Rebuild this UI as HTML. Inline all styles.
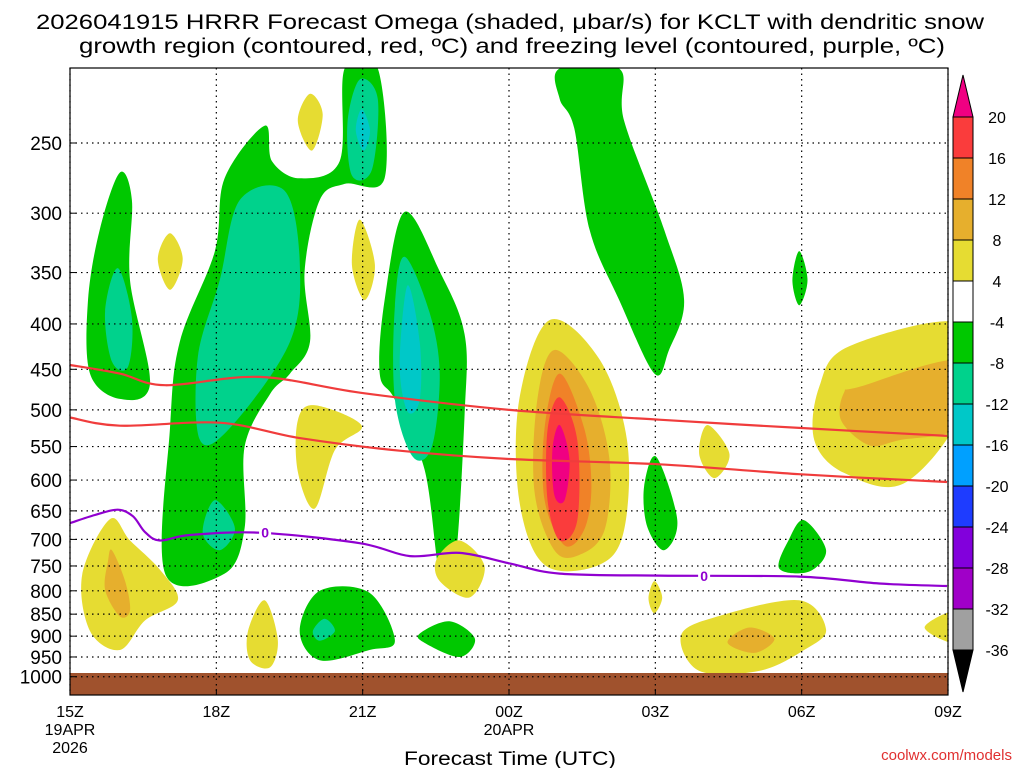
<!DOCTYPE html>
<html><head><meta charset="utf-8"><style>
html,body{margin:0;padding:0;background:#fff;}
svg{display:block;font-family:"Liberation Sans",sans-serif;}
</style></head><body>
<svg id="c" width="1024" height="768" viewBox="0 0 1024 768">
<text x="510" y="29" text-anchor="middle" font-size="21" textLength="948" lengthAdjust="spacingAndGlyphs" fill="#000">2026041915 HRRR Forecast Omega (shaded, μbar/s) for KCLT with dendritic snow</text>
<text x="512" y="53" text-anchor="middle" font-size="21" textLength="866" lengthAdjust="spacingAndGlyphs" fill="#000">growth region (contoured, red, ºC) and freezing level (contoured, purple, ºC)</text>
<g id="fills"></g>
<g id="grid"></g>
<g id="lines"></g>
<g id="axes"></g>
<g id="cbar"></g>
<text x="510" y="765" text-anchor="middle" font-size="19" textLength="212" lengthAdjust="spacingAndGlyphs">Forecast Time (UTC)</text>
<text x="1012" y="760" text-anchor="end" font-size="15" fill="#e03030">coolwx.com/models</text>
</svg>
<script>
const pressureTicks=[250,300,350,400,450,500,550,600,650,700,750,800,850,900,950,1000];
const timeTicks=[0,3,6,9,12,15,18];
const timeLabels=["15Z","18Z","21Z","00Z","03Z","06Z","09Z"];
const cbarLevels=[20,16,12,8,4,-4,-8,-12,-16,-20,-24,-28,-32,-36];
const cbarColors=["#fa3c3c","#f08228","#e6af2d","#e6dc32","#ffffff","#00c800","#00d28c","#00c8c8","#00a0ff","#1e3cff","#8200dc","#a000c8","#a0a0a0"];
const regions=[
["#00c800",[[1.02,270],[1.27,290],[1.23,357],[1.64,467],[1.02,486],[0.41,455],[0.37,376],[0.61,313]]],
["#00d28c",[[0.98,346],[1.27,394],[1.19,447],[0.86,441],[0.72,387]]],
["#e6dc32",[[2.05,316],[2.31,338],[2.05,366],[1.80,338]]],
["#00c800",[[5.63,206],[6.31,206],[6.45,274],[5.63,278],[5.12,290],[4.81,349],[4.92,419],[4.51,455],[4.10,480],[3.58,550],[3.58,680],[3.17,765],[1.95,765],[2.05,524],[2.25,419],[2.97,331],[3.17,274],[3.99,239],[4.14,262],[4.71,274],[5.53,262]]],
["#00d28c",[[3.48,290],[4.40,283],[4.71,340],[4.51,419],[3.28,524],[2.66,540],[2.62,436],[3.07,357]]],
["#00d28c",[[5.94,212],[6.31,223],[6.19,268],[5.78,272],[5.69,237]]],
["#00c8c8",[[5.98,229],[6.15,242],[6.02,255],[5.86,242]]],
["#00d28c",[[2.97,632],[3.38,680],[3.07,720],[2.72,688]]],
["#e6dc32",[[4.92,220],[5.18,232],[4.96,255],[4.67,236]]],
["#e6dc32",[[5.94,305],[6.25,343],[6.04,376],[5.78,343]]],
["#e6dc32",[[5.02,494],[5.98,521],[5.43,555],[5.02,646],[4.67,587],[4.67,514]]],
["#00c800",[[6.86,299],[7.58,349],[8.09,411],[8.09,506],[7.89,748],[7.58,765],[7.27,584],[6.66,487],[6.35,455],[6.45,376]]],
["#00d28c",[[6.86,336],[7.37,388],[7.58,455],[7.42,550],[7.03,565],[6.66,487],[6.66,382]]],
["#00c8c8",[[6.92,362],[7.17,419],[7.17,487],[6.92,502],[6.76,445]]],
["#e6dc32",[[7.99,702],[8.50,751],[8.19,814],[7.58,780],[7.52,736]]],
["#e6dc32",[[0.82,664],[1.23,702],[1.84,757],[2.21,820],[1.54,864],[1.02,933],[0.41,888],[0.25,767]]],
["#e6af2d",[[0.86,720],[1.13,780],[1.23,842],[1.02,855],[0.72,798],[0.78,741]]],
["#e6dc32",[[3.99,820],[4.26,909],[4.10,976],[3.69,958],[3.65,888]]],
["#00c800",[[5.12,800],[6.14,804],[6.66,911],[6.14,933],[5.12,958],[4.71,888]]],
["#00d28c",[[5.22,860],[5.43,888],[5.12,911],[4.98,888]]],
["#00c800",[[7.78,866],[8.30,906],[7.99,950],[7.27,916],[7.17,894]]],
["#e6dc32",[[9.83,396],[10.85,438],[11.42,541],[11.36,683],[10.85,748],[9.73,748],[9.21,632],[9.21,487]]],
["#e6af2d",[[9.93,428],[10.65,474],[11.06,569],[10.96,683],[10.44,729],[9.93,720],[9.52,617],[9.58,487]]],
["#f08228",[[10.04,455],[10.54,524],[10.69,610],[10.54,683],[10.14,711],[9.73,632],[9.73,524]]],
["#fa3c3c",[[10.04,484],[10.40,541],[10.40,666],[10.04,702],[9.79,632],[9.79,527]]],
["#f00082",[[10.04,520],[10.24,569],[10.14,632],[9.93,624],[9.89,555]]],
["#00c800",[[10.04,206],[11.26,206],[11.36,236],[12.18,313],[12.59,376],[12.28,428],[11.98,455],[11.26,376],[10.65,313],[10.34,241],[10.04,223]]],
["#00c800",[[12.02,565],[12.45,666],[12.18,720],[11.83,676],[11.77,610]]],
["#e6dc32",[[13.07,520],[13.52,561],[13.21,597],[12.90,561]]],
["#e6dc32",[[11.98,780],[12.14,814],[11.98,848],[11.86,816]]],
["#00c800",[[14.95,331],[15.12,357],[14.95,381],[14.81,357]]],
["#00c800",[[15.05,666],[15.50,720],[15.15,761],[14.54,755],[14.74,700]]],
["#e6dc32",[[13.31,854],[14.95,820],[15.50,885],[15.05,933],[14.13,985],[12.90,985],[12.53,897]]],
["#e6af2d",[[13.93,880],[14.44,906],[14.03,940],[13.48,915]]],
["#e6dc32",[[15.97,424],[18.3,400],[18.3,500],[17.10,605],[15.87,589],[15.26,541],[15.36,471]]],
["#e6af2d",[[16.18,471],[18.3,440],[18.3,520],[17.0,541],[16.38,548],[15.81,514],[15.87,478]]],
["#e6dc32",[[18.3,840],[18.3,920],[17.52,880]]]
];
const dgzHours1=[0,1.02,1.95,3.89,6.04,9.01,12.08,14.95,17.98];
const dgzP1=[445,455,469,459,479,500,513,524,535];
const dgzHours2=[0,1.02,3.07,4.71,6.76,9.01,12.08,14.95,17.98];
const dgzP2=[510,521,517,538,556,568,576,591,603];
const frzHours=[0,0.51,0.98,1.29,1.54,1.84,2.46,3.89,5.94,6.97,7.99,9.01,10.04,12.08,14.95,16.59,17.98];
const frzP=[671,657,648,659,687,702,692,688,707,731,725,745,765,769,771,785,790];

const X0=70,X1=948,Y0=68,Y1=695;
const xs=h=>X0+h*(X1-X0)/18;
const ys=p=>143+385*Math.log(p/250);
const NS="http://www.w3.org/2000/svg";
function mk(tag,attrs,parent){const e=document.createElementNS(NS,tag);for(const k in attrs)e.setAttribute(k,attrs[k]);parent.appendChild(e);return e;}
function smooth(pts,closed){
  const n=pts.length;let d="M"+pts[0][0].toFixed(1)+","+pts[0][1].toFixed(1);
  const g=i=>closed?pts[(i+n)%n]:pts[Math.max(0,Math.min(n-1,i))];
  const m=closed?n:n-1;
  for(let i=0;i<m;i++){const p0=g(i-1),p1=g(i),p2=g(i+1),p3=g(i+2);
    d+="C"+(p1[0]+(p2[0]-p0[0])/6).toFixed(1)+","+(p1[1]+(p2[1]-p0[1])/6).toFixed(1)+" "+(p2[0]-(p3[0]-p1[0])/6).toFixed(1)+","+(p2[1]-(p3[1]-p1[1])/6).toFixed(1)+" "+p2[0].toFixed(1)+","+p2[1].toFixed(1);}
  return d+(closed?"Z":"");
}
const svg=document.getElementById('c');
const fills=document.getElementById('fills');
const defs=mk('defs',{},svg);
const cp=mk('clipPath',{id:'plotclip'},defs);
mk('rect',{x:X0,y:Y0,width:X1-X0,height:Y1-Y0},cp);
fills.setAttribute('clip-path','url(#plotclip)');
regions.forEach((r,i)=>{
  const pts=r[1].map(q=>[xs(q[0]),ys(q[1])]);
  const e=mk('path',{d:smooth(pts,true),fill:r[0]},fills);
  
  
});
const ground=mk('rect',{x:X0,y:673,width:X1-X0,height:Y1-673,fill:"#a0522d"},fills);



const grid=document.getElementById('grid');
pressureTicks.forEach(p=>{mk('line',{x1:X0,x2:X1,y1:ys(p),y2:ys(p),stroke:"#000","stroke-width":1.2,"stroke-dasharray":"1.5,4"},grid);});
timeTicks.forEach(h=>{mk('line',{x1:xs(h),x2:xs(h),y1:Y0,y2:Y1,stroke:"#000","stroke-width":1.2,"stroke-dasharray":"1.5,4"},grid);});

const lines=document.getElementById('lines');
function drawLine(H,P,color,name){
  const pts=H.map((h,i)=>[xs(h),ys(P[i])]);
  const e=mk('path',{d:smooth(pts,false),fill:"none",stroke:color,"stroke-width":2.2},lines);
  
  
}
drawLine(dgzHours1,dgzP1,"#f03c3c","dgz-line-upper");
drawLine(dgzHours2,dgzP2,"#f03c3c","dgz-line-lower");
drawLine(frzHours,frzP,"#9000d0","freezing-level-line");
[[4.0,688],[13.0,770]].forEach(q=>{
  mk('rect',{x:xs(q[0])-6,y:ys(q[1])-8,width:12,height:16,fill:"#fff"},lines);
  const t=mk('text',{x:xs(q[0]),y:ys(q[1])+5,"text-anchor":"middle","font-size":14,"font-weight":"bold",fill:"#9000d0"},lines);
  t.textContent="0";
  
  
});

const axes=document.getElementById('axes');
mk('rect',{x:X0,y:Y0,width:X1-X0,height:Y1-Y0,fill:"none",stroke:"#000","stroke-width":1.2},axes);
pressureTicks.forEach(p=>{
  mk('line',{x1:X0,x2:X0+6,y1:ys(p),y2:ys(p),stroke:"#000"},axes);
  const t=mk('text',{x:62,y:ys(p)+7,"text-anchor":"end","font-size":19},axes);
  t.textContent=p;
  
  
});
timeTicks.forEach((h,i)=>{
  mk('line',{x1:xs(h),x2:xs(h),y1:Y1,y2:Y1-6,stroke:"#000"},axes);
  const t=mk('text',{x:xs(h),y:717,"text-anchor":"middle","font-size":16},axes);
  t.textContent=timeLabels[i];
  
  
});
[["19APR",xs(0),735],["2026",xs(0),753],["20APR",xs(9),735]].forEach(a=>{
  const t=mk('text',{x:a[1],y:a[2],"text-anchor":"middle","font-size":16},axes);
  t.textContent=a[0];
  
  
});

const cb=document.getElementById('cbar');
const cbx=953,cbw=20,cbTop=117,cbStep=(650-117)/13;
mk('polygon',{points:`${cbx},${cbTop} ${cbx+cbw},${cbTop} ${cbx+cbw/2},75`,fill:"#f00082",stroke:"#000"},cb);
cbarColors.forEach((c,i)=>{
  const r=mk('rect',{x:cbx,y:cbTop+i*cbStep,width:cbw,height:cbStep,fill:c,stroke:"#000"},cb);
  
  
});
mk('polygon',{points:`${cbx},650 ${cbx+cbw},650 ${cbx+cbw/2},692`,fill:"#000",stroke:"#000"},cb);
cbarLevels.forEach((v,i)=>{
  const t=mk('text',{x:997,y:cbTop+i*cbStep+6,"text-anchor":"middle","font-size":16},cb);
  t.textContent=v;
  
  
});
</script>
</body></html>
